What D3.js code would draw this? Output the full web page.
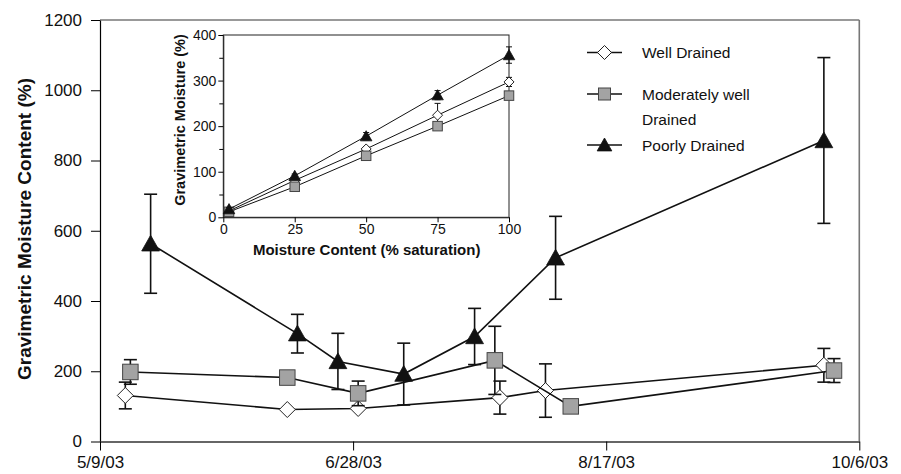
<!DOCTYPE html>
<html><head><meta charset="utf-8">
<script src="https://cdn.jsdelivr.net/npm/d3@7"></script>
<style>
body{margin:0;background:#fff;}
svg{display:block;font-family:"Liberation Sans",Arial,Helvetica,sans-serif;}
</style></head>
<body><svg id="c" width="901" height="474"></svg>
<script>
// ---- Main chart data ----
const seriesNames = ["Well Drained", "Moderately well Drained", "Poorly Drained"];
const wellDates = ["5/14/03", "6/15/03", "6/29/03", "7/27/03", "8/5/03", "9/29/03"];
const wellValues = [131, 91, 94, 125, 145, 217];
const wellErr = [38, 0, 0, 47, 76, 48];
const modDates = ["5/15/03", "6/15/03", "6/29/03", "7/26/03", "8/10/03", "10/1/03"];
const modValues = [198, 182, 137, 231, 100, 202];
const modErr = [35, 0, 35, 97, 0, 34];
const poorDates = ["5/19/03", "6/17/03", "6/25/03", "7/8/03", "7/22/03", "8/7/03", "9/29/03"];
const poorValues = [563, 307, 228, 192, 299, 523, 857];
const poorErr = [141, 55, 80, 88, 80, 118, 236];
const xTickLabels = ["5/9/03", "6/28/03", "8/17/03", "10/6/03"];
const yTicks = [0, 200, 400, 600, 800, 1000, 1200];

// ---- Inset data ----
const insetX = [2, 25, 50, 75, 100];
const insetWell = [14, 81, 150, 224, 297];
const insetWellErr = [2, 3, 5, 26, 10];
const insetMod = [12, 67, 135, 200, 267];
const insetModErr = [2, 3, 4, 5, 5];
const insetPoor = [18, 91, 178, 268, 356];
const insetPoorErr = [3, 4, 8, 10, 18];
const insetXTicks = [0, 25, 50, 75, 100];
const insetYTicks = [0, 100, 200, 300, 400];
const insetYMinor = [50, 150, 250, 350];

const parse = d3.utcParse("%m/%d/%y");
const fmt = d3.utcFormat("%-m/%-d/%y");
const svg = d3.select("#c");

const L = 100, R = 859.3, T = 20, B = 441.5;
const x = d3.scaleUtc().domain([parse("5/9/03"), parse("10/6/03")]).range([L, R]);
const y = d3.scaleLinear().domain([0, 1200]).range([B, T]);

// frame top/right
svg.append("line").attr("x1", L).attr("x2", R).attr("y1", T).attr("y2", T).attr("stroke", "#777").attr("stroke-width", 1.6);
svg.append("line").attr("x1", R).attr("x2", R).attr("y1", T).attr("y2", B).attr("stroke", "#777").attr("stroke-width", 1.6);

// axes
const yAx = svg.append("g").attr("transform", `translate(${L},0)`)
  .call(d3.axisLeft(y).tickValues(yTicks).tickFormat(d3.format("d")).tickSize(9).tickPadding(9).tickSizeOuter(0));
yAx.select(".domain").attr("stroke", "#000").attr("stroke-width", 1.2);
yAx.selectAll(".tick line").attr("stroke", "#000").attr("stroke-width", 1);
yAx.selectAll("text").attr("font-size", "17px").attr("fill", "#111").attr("font-family", "Liberation Sans, Arial, sans-serif");

const xAx = svg.append("g").attr("transform", `translate(0,${B})`)
  .call(d3.axisBottom(x).tickValues(xTickLabels.map(parse)).tickFormat(fmt).tickSize(9).tickPadding(5).tickSizeOuter(0));
xAx.select(".domain").attr("stroke", "#666").attr("stroke-width", 2);
xAx.selectAll(".tick line").attr("stroke", "#000").attr("stroke-width", 1);
xAx.selectAll("text").attr("font-size", "17px").attr("fill", "#111").attr("font-family", "Liberation Sans, Arial, sans-serif");

svg.append("text").attr("transform", "translate(24,229) rotate(-90)")
  .attr("text-anchor", "middle").attr("dominant-baseline", "central")
  .attr("font-size", "19px").attr("font-weight", "bold").attr("fill", "#111")
  .text("Gravimetric Moisture Content (%)");

// marker helpers
function drawMarker(g, type, cx, cy, s) {
  if (type === "diamond") {
    const h = s / 2;
    g.append("path").attr("d", `M${cx},${cy - h}L${cx + h},${cy}L${cx},${cy + h}L${cx - h},${cy}Z`)
      .attr("fill", "#fff").attr("stroke", "#222").attr("stroke-width", 1);
  } else if (type === "square") {
    const h = s / 2;
    g.append("rect").attr("x", cx - h).attr("y", cy - h).attr("width", s).attr("height", s)
      .attr("fill", "#a3a3a3").attr("stroke", "#444").attr("stroke-width", 1);
  } else {
    const h = s / 2;
    g.append("path").attr("d", `M${cx},${cy - h}L${cx + h * 1.05},${cy + h * 0.85}L${cx - h * 1.05},${cy + h * 0.85}Z`)
      .attr("fill", "#111").attr("stroke", "#111").attr("stroke-width", 0.8);
  }
}

function drawSeries(g, xs, ys, errs, xsc, ysc, type, msize, cap, lw) {
  const pts = xs.map((d, i) => [xsc(d), ysc(ys[i])]);
  g.append("path").attr("d", d3.line()(pts)).attr("fill", "none").attr("stroke", "#111").attr("stroke-width", lw);
  pts.forEach((p, i) => {
    const e = errs[i];
    if (e > 0) {
      const y1 = ysc(ys[i] + e), y2 = ysc(ys[i] - e);
      g.append("line").attr("x1", p[0]).attr("x2", p[0]).attr("y1", y1).attr("y2", y2).attr("stroke", "#111").attr("stroke-width", lw);
      [y1, y2].forEach(yy => g.append("line").attr("x1", p[0] - cap / 2).attr("x2", p[0] + cap / 2)
        .attr("y1", yy).attr("y2", yy).attr("stroke", "#111").attr("stroke-width", lw));
    }
  });
  pts.forEach(p => drawMarker(g, type, p[0], p[1], msize));
}

const main = svg.append("g");
drawSeries(main, wellDates.map(parse), wellValues, wellErr, x, y, "diamond", 16, 13, 1.6);
drawSeries(main, modDates.map(parse), modValues, modErr, x, y, "square", 15.5, 13, 1.6);
drawSeries(main, poorDates.map(parse), poorValues, poorErr, x, y, "triangle", 17, 13, 1.6);

// ---- Legend ----
const legX1 = 587, legX2 = 622, legText = 642;
const legRows = [
  {type: "diamond", y: 52.5, lines: ["Well Drained"], s: 14},
  {type: "square", y: 94, lines: ["Moderately well", "Drained"], s: 12},
  {type: "triangle", y: 145, lines: ["Poorly Drained"], s: 14}
];
legRows.forEach((r, i) => {
  const g = svg.append("g");
  g.append("line").attr("x1", legX1).attr("x2", legX2).attr("y1", r.y).attr("y2", r.y).attr("stroke", "#111").attr("stroke-width", 1.4);
  drawMarker(g, r.type, (legX1 + legX2) / 2, r.y, r.s);
  g.append("text").attr("x", legText).attr("y", r.y).attr("dy", "0.36em")
    .attr("font-size", "15.5px").attr("fill", "#111").text(r.lines[0]);
  if (r.lines.length > 1) {
    g.append("text").attr("x", legText).attr("y", r.y + 25).attr("dy", "0.36em")
      .attr("font-size", "15.5px").attr("fill", "#111").text(r.lines[1]);
  }
});

// ---- Inset ----
const iL = 223.3, iR = 509, iT = 35, iB = 217.3;
const xi = d3.scaleLinear().domain([0, 100]).range([iL, iR]);
const yi = d3.scaleLinear().domain([0, 400]).range([iB, iT]);
const ins = svg.append("g");
ins.append("rect").attr("x", iL).attr("y", iT).attr("width", iR - iL).attr("height", iB - iT)
  .attr("fill", "#fff").attr("stroke", "#222").attr("stroke-width", 1);

const iyAx = ins.append("g").attr("transform", `translate(${iL},0)`)
  .call(d3.axisLeft(yi).tickValues(insetYTicks).tickSize(5).tickPadding(2).tickSizeOuter(0));
iyAx.selectAll("text").attr("font-size", "14px").attr("fill", "#111").attr("font-family", "Liberation Sans, Arial, sans-serif");
iyAx.select(".domain").attr("stroke", "#222");
ins.append("g").attr("transform", `translate(${iL},0)`)
  .call(d3.axisLeft(yi).tickValues(insetYMinor).tickSize(4).tickFormat(""))
  .call(g => g.select(".domain").remove());

const ixAx = ins.append("g").attr("transform", `translate(0,${iB})`)
  .call(d3.axisBottom(xi).tickValues(insetXTicks).tickSize(5).tickPadding(2).tickSizeOuter(0));
ixAx.selectAll("text").attr("font-size", "14px").attr("fill", "#111").attr("font-family", "Liberation Sans, Arial, sans-serif");
ixAx.select(".domain").attr("stroke", "#222");

ins.append("text").attr("x", (iL + iR) / 2 + 0.5).attr("y", 255).attr("text-anchor", "middle")
  .attr("font-size", "15px").attr("font-weight", "bold").attr("fill", "#111")
  .text("Moisture Content (% saturation)");
ins.append("text").attr("transform", "translate(180,120) rotate(-90)")
  .attr("text-anchor", "middle").attr("dominant-baseline", "central")
  .attr("font-size", "14.5px").attr("font-weight", "bold").attr("fill", "#111")
  .text("Gravimetric Moisture (%)");

drawSeries(ins, insetX, insetWell, insetWellErr, xi, yi, "diamond", 10, 6, 1);
drawSeries(ins, insetX, insetMod, insetModErr, xi, yi, "square", 9.5, 6, 1);
drawSeries(ins, insetX, insetPoor, insetPoorErr, xi, yi, "triangle", 11, 6, 1);
</script></body></html>
